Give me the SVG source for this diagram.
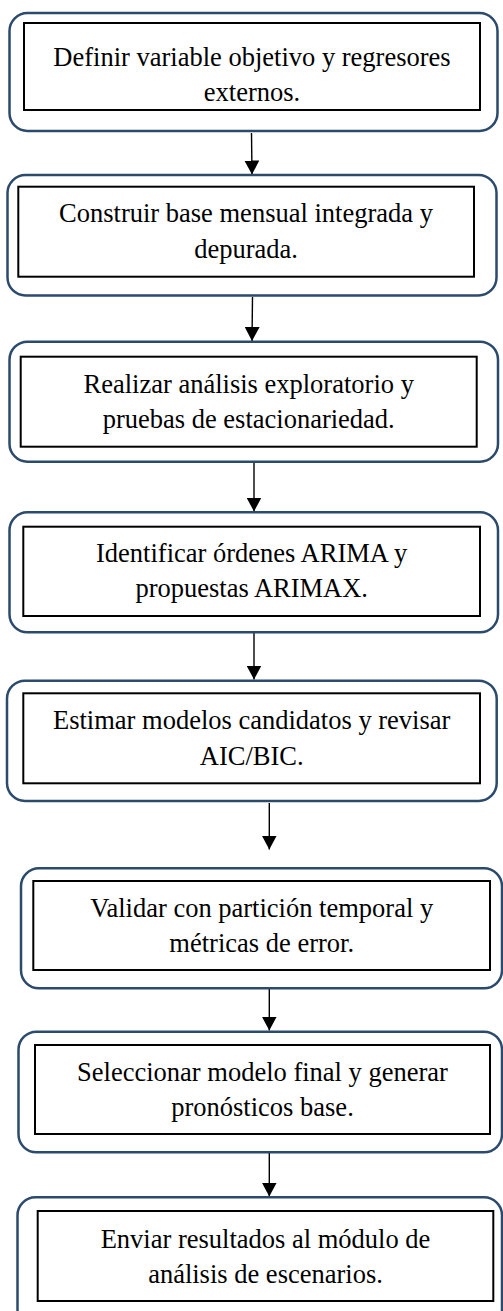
<svg xmlns="http://www.w3.org/2000/svg" width="503" height="1311" viewBox="0 0 503 1311">
<style>
.outer{fill:#ffffff;stroke:#2c4a6b;stroke-width:2.5}
.inner{fill:#ffffff;stroke:#000000;stroke-width:2}
.t{font-family:"Liberation Serif","Times New Roman",serif;font-size:26.5px;fill:#000000;text-anchor:middle}
.c{stroke:#000000;stroke-width:1.4;fill:none;marker-end:url(#ah)}
</style>
<defs>
<marker id="ah" viewBox="0 0 14 15" refX="14" refY="7.5" markerWidth="14" markerHeight="15" markerUnits="userSpaceOnUse" orient="auto">
<path d="M0,0 L14,7.5 L0,15 Z" fill="#000000"/>
</marker>
</defs>
<rect width="503" height="1311" fill="#ffffff"/>
<g id="connectors">
<line class="c" x1="251.5" y1="133" x2="252" y2="174.5"/>
<line class="c" x1="252.5" y1="297" x2="252" y2="341"/>
<line class="c" x1="254" y1="463" x2="254" y2="511.5"/>
<line class="c" x1="254" y1="633" x2="254" y2="679.5"/>
<line class="c" x1="269.3" y1="803" x2="269.3" y2="849.5"/>
<line class="c" x1="269.3" y1="989" x2="269.3" y2="1030.5"/>
<line class="c" x1="269.3" y1="1153" x2="269.3" y2="1196.5"/>
</g>
<g id="n1">
<rect class="outer" x="9.5" y="13" width="488" height="118" rx="18"/>
<rect class="inner" x="24" y="23" width="456" height="87"/>
<text class="t" x="252" y="65.5">Definir variable objetivo y regresores</text>
<text class="t" x="252" y="101">externos.</text>
</g>
<g id="n2">
<rect class="outer" x="7.5" y="175" width="489" height="120.5" rx="18"/>
<rect class="inner" x="18.3" y="186.7" width="455.7" height="90"/>
<text class="t" x="246" y="221.7">Construir base mensual integrada y</text>
<text class="t" x="246" y="257.7">depurada.</text>
</g>
<g id="n3">
<rect class="outer" x="9.5" y="341.7" width="488.5" height="120" rx="18"/>
<rect class="inner" x="20.7" y="356.7" width="456" height="90"/>
<text class="t" x="248.7" y="392.7">Realizar análisis exploratorio y</text>
<text class="t" x="248.7" y="428.3">pruebas de estacionariedad.</text>
</g>
<g id="n4">
<rect class="outer" x="9.5" y="512.3" width="488.5" height="120" rx="18"/>
<rect class="inner" x="23.3" y="526.7" width="456.7" height="89.3"/>
<text class="t" x="251.7" y="561.7">Identificar órdenes ARIMA y</text>
<text class="t" x="251.7" y="596.7">propuestas ARIMAX.</text>
</g>
<g id="n5">
<rect class="outer" x="7" y="680.7" width="489.7" height="120.3" rx="18"/>
<rect class="inner" x="23.3" y="693.3" width="456.7" height="90"/>
<text class="t" x="251.7" y="729.3">Estimar modelos candidatos y revisar</text>
<text class="t" x="251.7" y="765">AIC/BIC.</text>
</g>
<g id="n6">
<rect class="outer" x="21" y="868.3" width="481" height="120" rx="18"/>
<rect class="inner" x="33.3" y="881" width="456.7" height="89"/>
<text class="t" x="261.7" y="916.7">Validar con partición temporal y</text>
<text class="t" x="261.7" y="951.7">métricas de error.</text>
</g>
<g id="n7">
<rect class="outer" x="18.5" y="1031.7" width="483.5" height="120.6" rx="18"/>
<rect class="inner" x="35" y="1045" width="455" height="89"/>
<text class="t" x="262.5" y="1080.7">Seleccionar modelo final y generar</text>
<text class="t" x="262.5" y="1116">pronósticos base.</text>
</g>
<g id="n8">
<rect class="outer" x="17.5" y="1197.3" width="484.5" height="130" rx="18"/>
<rect class="inner" x="37.7" y="1211" width="455.6" height="90"/>
<text class="t" x="265.5" y="1247.7">Enviar resultados al módulo de</text>
<text class="t" x="265.5" y="1283.3">análisis de escenarios.</text>
</g>
</svg>
